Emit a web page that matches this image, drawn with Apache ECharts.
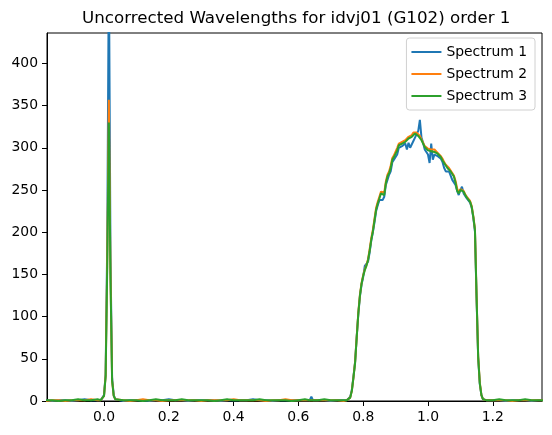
<!DOCTYPE html>
<html>
<head>
<meta charset="utf-8">
<script src="https://cdn.jsdelivr.net/npm/echarts@6/dist/echarts.min.js"></script>
<style>
  body { margin: 0; background: #fff; }
  #main { width: 552px; height: 435px; }
</style>
</head>
<body>
<div id="main"></div>
<script>
// x positions (wavelength, uncorrected)
const xs = [
  -0.18, -0.16, -0.14, -0.12, -0.10, -0.08, -0.06, -0.04, -0.02, -0.01,
  -0.005, 0.0, 0.005, 0.01, 0.015, 0.02, 0.025, 0.03, 0.035,
  0.04, 0.06, 0.08, 0.10, 0.12, 0.14, 0.16, 0.18, 0.20, 0.22,
  0.24, 0.26, 0.28, 0.30, 0.32, 0.34, 0.36, 0.38, 0.40, 0.42,
  0.44, 0.46, 0.48, 0.50, 0.52, 0.54, 0.56, 0.58, 0.60, 0.62,
  0.635, 0.64, 0.645,
  0.66, 0.68, 0.70, 0.72, 0.74,
  0.745, 0.75, 0.755, 0.76, 0.765, 0.77, 0.775, 0.78, 0.785, 0.79,
  0.795, 0.80, 0.805, 0.81, 0.815, 0.82, 0.825, 0.83, 0.835, 0.84,
  0.845, 0.85, 0.855, 0.86, 0.865, 0.87, 0.875, 0.88, 0.885, 0.89,
  0.895, 0.90, 0.905, 0.91, 0.915, 0.92, 0.925, 0.93, 0.935, 0.94,
  0.945, 0.95, 0.955, 0.96, 0.965, 0.97, 0.975, 0.98, 0.985, 0.99,
  0.995, 1.00, 1.005, 1.01, 1.015, 1.02, 1.025, 1.03, 1.035, 1.04,
  1.045, 1.05, 1.055, 1.06, 1.065, 1.07, 1.075, 1.08, 1.085, 1.09,
  1.095, 1.10, 1.105, 1.11, 1.115, 1.12, 1.125, 1.13, 1.135, 1.14,
  1.145, 1.15, 1.155, 1.16, 1.165, 1.17, 1.175, 1.18,
  1.20, 1.22, 1.24, 1.26, 1.28, 1.30, 1.32, 1.34, 1.36
];

const spectrum1 = [
  1, 0, 1, 1, 0, 1, 2, 1, 1, 1,
  2, 7, 32, 190, 520, 170, 27, 7, 2,
  1, 0, 1, 1, 1, 0, 1, 1, 2, 1,
  1, 0, 1, 1, 1, 1, 0, 1, 1, 1,
  1, 2, 1, 1, 0, 1, 1, 1, 1, 1,
  1, 5, 1,
  1, 1, 0, 1, 1,
  1, 1, 2, 5, 13, 29, 46, 76, 103, 124,
  138, 147, 160, 158, 165, 176, 190, 200, 212, 225,
  232, 238, 240, 238, 242, 256, 262, 268, 272, 283,
  286, 286, 292, 300, 298, 302, 300, 305, 298, 306,
  300, 299, 308, 312, 314, 320, 333, 312, 306, 298,
  300, 292, 282, 305, 286, 292, 292, 290, 288, 287,
  283, 276, 272, 274, 272, 270, 262, 260, 256, 249,
  244, 250, 254, 246, 243, 240, 238, 235, 229, 217,
  201, 122, 51, 20, 7, 2, 1, 1,
  1, 1, 0, 1, 1, 1, 0, 1, 1
];

const spectrum2 = [
  0, 1, 1, 0, 1, 1, 1, 2, 1, 1,
  2, 6, 30, 170, 357, 150, 24, 6, 2,
  1, 1, 0, 1, 2, 1, 1, 0, 1, 1,
  1, 1, 1, 0, 1, 1, 1, 1, 2, 1,
  1, 1, 1, 0, 1, 1, 2, 1, 1, 1,
  1, 1, 1,
  1, 1, 1, 1, 0,
  1, 1, 2, 4, 12, 28, 46, 76, 105, 126,
  140, 149, 156, 161, 168, 180, 193, 203, 216, 229,
  236, 242, 248, 250, 247, 260, 268, 272, 279, 288,
  291, 293, 300, 305, 304, 307, 308, 309, 310, 313,
  315, 315, 318, 318, 318, 316, 314, 310, 306, 302,
  300, 299, 297, 298, 297, 298, 296, 294, 292, 290,
  287, 283, 280, 278, 276, 273, 270, 267, 261, 252,
  247, 251, 251, 249, 245, 242, 240, 237, 231, 219,
  204, 125, 53, 22, 7, 2, 1, 1,
  1, 1, 1, 0, 1, 1, 1, 1, 1
];

const spectrum3 = [
  1, 1, 0, 1, 1, 2, 1, 1, 2, 1,
  2, 6, 29, 160, 330, 145, 24, 6, 2,
  1, 1, 1, 1, 0, 1, 2, 1, 1, 1,
  2, 1, 1, 1, 1, 0, 1, 2, 1, 1,
  1, 1, 2, 1, 1, 1, 1, 0, 1, 2,
  1, 2, 1,
  1, 2, 1, 1, 1,
  1, 1, 2, 4, 12, 28, 45, 75, 104, 125,
  139, 148, 155, 160, 167, 178, 191, 201, 214, 227,
  234, 240, 246, 248, 244, 258, 266, 270, 276, 286,
  289, 291, 297, 303, 303, 305, 306, 307, 308, 311,
  312, 313, 314, 317, 316, 314, 313, 309, 305, 301,
  299, 297, 295, 296, 295, 295, 294, 293, 291, 289,
  285, 282, 279, 276, 274, 272, 269, 266, 259, 249,
  246, 250, 250, 248, 244, 241, 239, 236, 230, 218,
  203, 124, 52, 21, 7, 2, 1, 1,
  1, 2, 1, 1, 1, 2, 1, 1, 1
];

const seriesNames = ['Spectrum 1', 'Spectrum 2', 'Spectrum 3'];
const seriesColors = ['#1f77b4', '#ff7f0e', '#2ca02c'];
const xTicks = [0.0, 0.2, 0.4, 0.6, 0.8, 1.0, 1.2];
const yTicks = [0, 50, 100, 150, 200, 250, 300, 350, 400];

const font = 'DejaVu Sans';

function toPairs(ys) {
  return xs.map((x, i) => [x, ys[i]]);
}

let option = {
  animation: false,
  title: {
    text: 'Uncorrected Wavelengths for idvj01 (G102) order 1',
    left: 77,
    top: 5,
    textStyle: { fontFamily: font, fontSize: 16.7, fontWeight: 'normal', color: '#000' }
  },
  legend: {
    orient: 'vertical',
    right: 17,
    top: 38,
    padding: [7, 8, 7, 5],
    icon: 'rect',
    itemWidth: 30,
    itemHeight: 2,
    itemGap: 8,
    borderColor: '#d0d0d0',
    borderWidth: 1,
    borderRadius: 3,
    backgroundColor: 'rgba(255,255,255,0.8)',
    textStyle: { fontFamily: font, fontSize: 13.9, lineHeight: 14, color: '#000' },
    data: seriesNames
  },
  grid: {
    left: 47,
    right: 10,
    top: 33,
    bottom: 34,
    show: true,
    borderColor: '#000',
    borderWidth: 1
  },
  xAxis: {
    type: 'value',
    min: -0.176,
    max: 1.352,
    splitLine: { show: false },
    axisLine: { onZero: false, lineStyle: { color: '#000', width: 1 } },
    axisTick: { show: true, length: 5, lineStyle: { color: '#000' }, customValues: xTicks },
    axisLabel: {
      margin: 9,
      fontFamily: font,
      fontSize: 13.9,
      color: '#000',
      customValues: xTicks,
      formatter: v => v.toFixed(1)
    }
  },
  yAxis: {
    type: 'value',
    min: 0,
    max: 436,
    splitLine: { show: false },
    axisLine: { show: true, onZero: false, lineStyle: { color: '#000', width: 1 } },
    axisTick: { show: true, length: 5, lineStyle: { color: '#000' }, customValues: yTicks },
    axisLabel: {
      margin: 9,
      fontFamily: font,
      fontSize: 13.9,
      color: '#000',
      customValues: yTicks
    }
  },
  series: [spectrum1, spectrum2, spectrum3].map((ys, i) => ({
    name: seriesNames[i],
    type: 'line',
    data: toPairs(ys),
    symbol: 'none',
    clip: true,
    color: seriesColors[i],
    lineStyle: { width: 2, color: seriesColors[i] }
  }))
};

let myChart = echarts.init(document.getElementById('main'));
myChart.setOption(option);
</script>
</body>
</html>
